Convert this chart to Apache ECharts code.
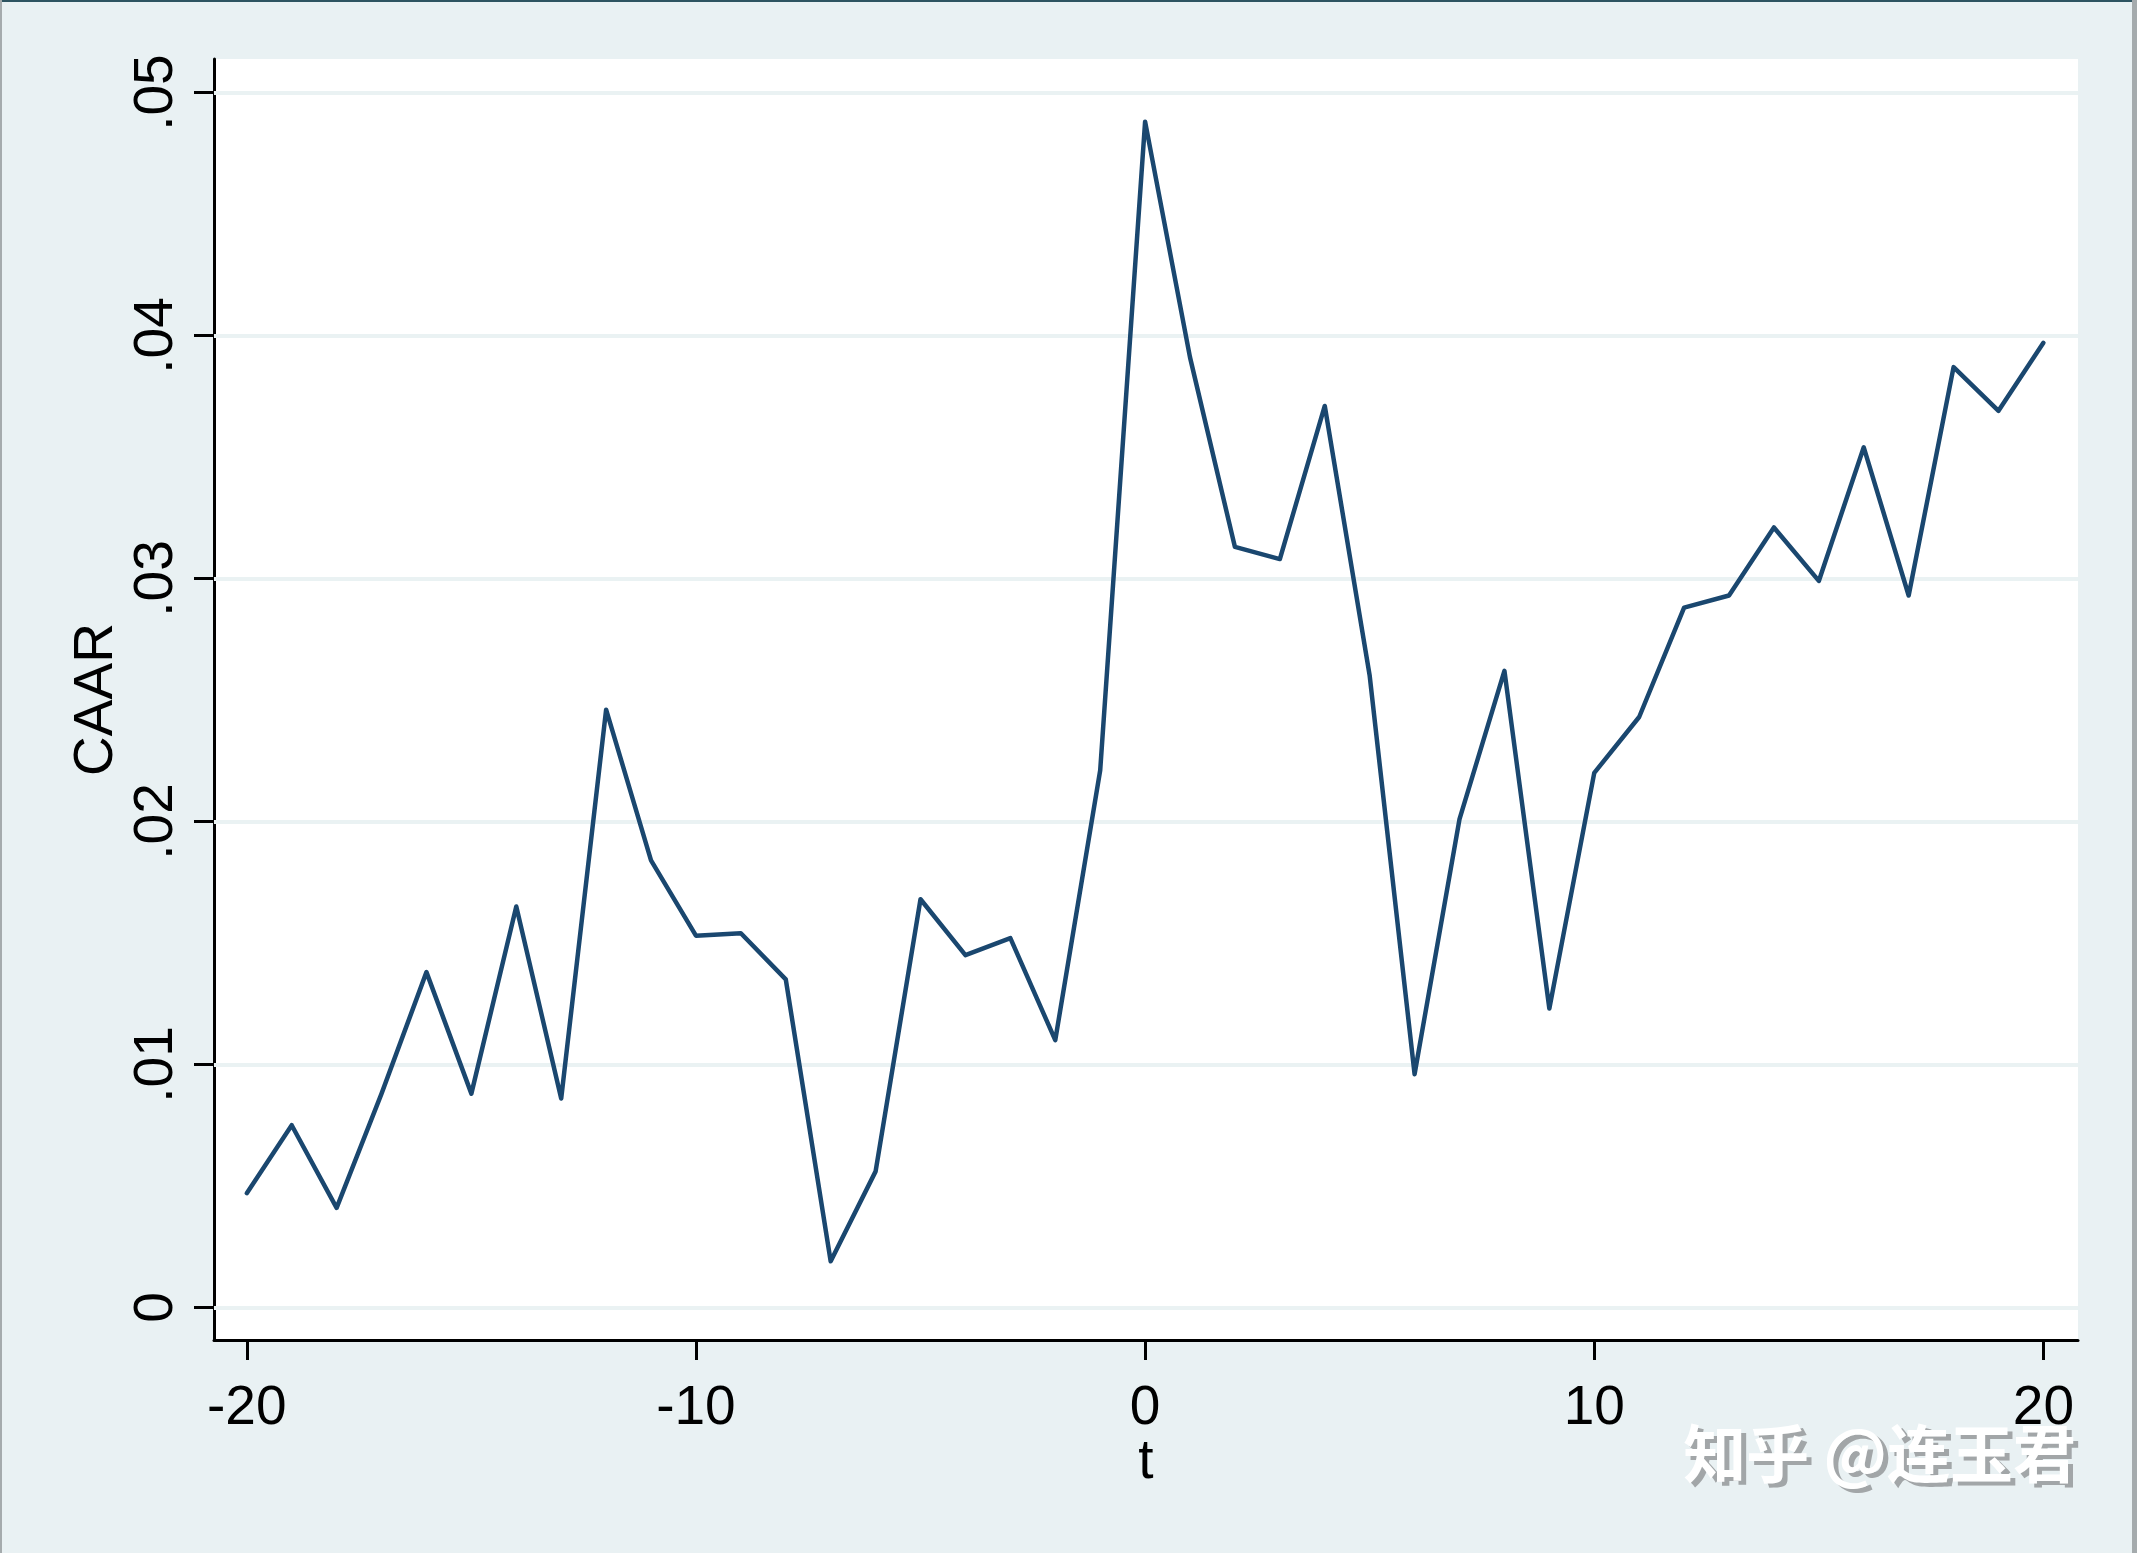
<!DOCTYPE html>
<html>
<head>
<meta charset="utf-8">
<script src="https://cdn.jsdelivr.net/npm/echarts@6/dist/echarts.min.js"></script>
<style>
  html, body { margin: 0; padding: 0; background: #e9f1f3; }
  #chart { width: 2137px; height: 1553px; }
</style>
</head>
<body>
<div id="chart"></div>
<script>
// Event time t
const tValues = [-20,-19,-18,-17,-16,-15,-14,-13,-12,-11,-10,-9,-8,-7,-6,-5,-4,-3,-2,-1,
                 0,1,2,3,4,5,6,7,8,9,10,11,12,13,14,15,16,17,18,19,20];
// CAAR values
const caar = [0.0047,0.0075,0.0041,0.0088,0.0138,0.0088,0.0165,0.0086,0.0246,0.0184,
              0.0153,0.0154,0.0135,0.0019,0.0056,0.0168,0.0145,0.0152,0.0110,0.0221,
              0.0488,0.0391,0.0313,0.0308,0.0371,0.0260,0.0096,0.0201,0.0262,0.0123,
              0.0220,0.0243,0.0288,0.0293,0.0321,0.0299,0.0354,0.0293,0.0387,0.0369,
              0.0397];
const xTicks = [-20, -10, 0, 10, 20];
const yTicks = [0, 0.01, 0.02, 0.03, 0.04, 0.05];
const xTitle = 't';
const yTitle = 'CAAR';
const watermark = '知乎 @连玉君';

const chart = echarts.init(document.getElementById('chart'));
const font = 'Liberation Sans, Arial, Helvetica, sans-serif';
const fmtY = v => {
  const r = Math.round(v * 100) / 100;
  if (r === 0) return '0';
  return r.toFixed(2).replace(/^0/, '');
};

chart.setOption({
  backgroundColor: '#e9f1f3',
  animation: false,
  grid: { left: 214, top: 59, width: 1864, height: 1281, containLabel: false,
          show: true, backgroundColor: '#ffffff', borderWidth: 0 },
  xAxis: {
    type: 'value', min: -20.73, max: 20.77,
    name: xTitle, nameLocation: 'middle', nameGap: 95, nameMoveOverlap: false,
    nameTextStyle: { fontFamily: font, fontSize: 55, color: '#000' },
    axisLine: { show: true, onZero: false, lineStyle: { color: '#000', width: 3 } },
    axisTick: { show: true, length: 20, lineStyle: { color: '#000', width: 3 }, customValues: xTicks },
    axisLabel: { fontFamily: font, fontSize: 55, color: '#000', margin: 41, customValues: xTicks,
                 formatter: v => String(v) },
    splitLine: { show: false }
  },
  yAxis: {
    type: 'value', min: -0.00134, max: 0.05138,
    name: yTitle, nameLocation: 'middle', nameGap: 90, nameMoveOverlap: false,
    nameTextStyle: { fontFamily: font, fontSize: 55, color: '#000' },
    axisLine: { show: true, onZero: false, lineStyle: { color: '#000', width: 3 } },
    axisTick: { show: true, length: 20, lineStyle: { color: '#000', width: 3 }, customValues: yTicks },
    axisLabel: { fontFamily: font, fontSize: 55, color: '#000', margin: 30, rotate: 90,
                 customValues: yTicks, formatter: fmtY },
    splitLine: { show: false }
  },
  series: [{
    type: 'line',
    data: tValues.map((t, i) => [t, caar[i]]),
    showSymbol: false,
    symbol: 'none',
    lineStyle: { color: '#1a476f', width: 4.5, join: 'round', cap: 'round' },
    z: 5,
    markLine: {
      silent: true, symbol: 'none', animation: false,
      label: { show: false },
      lineStyle: { color: '#eaf2f3', width: 4, type: 'solid' },
      data: yTicks.map(v => ({ yAxis: v }))
    }
  }],
  graphic: [
    { type: 'rect', left: 0, top: 0, shape: { width: 2137, height: 2 }, style: { fill: '#2d5461' } },
    { type: 'rect', left: 0, top: 0, shape: { width: 2, height: 1553 }, style: { fill: '#a5abad' } },
    { type: 'rect', left: 2132, top: 0, shape: { width: 5, height: 1553 }, style: { fill: '#a5abad' } },
    { type: 'text', right: 56, top: 1426,
      style: { text: watermark, fill: '#a2a6a8', fontSize: 63, fontWeight: 'bold',
               fontFamily: 'Noto Sans CJK SC, sans-serif' } },
    { type: 'text', right: 61, top: 1422,
      style: { text: watermark, fill: '#ffffff', fontSize: 63, fontWeight: 'bold',
               fontFamily: 'Noto Sans CJK SC, sans-serif' } }
  ]
});
</script>
</body>
</html>
